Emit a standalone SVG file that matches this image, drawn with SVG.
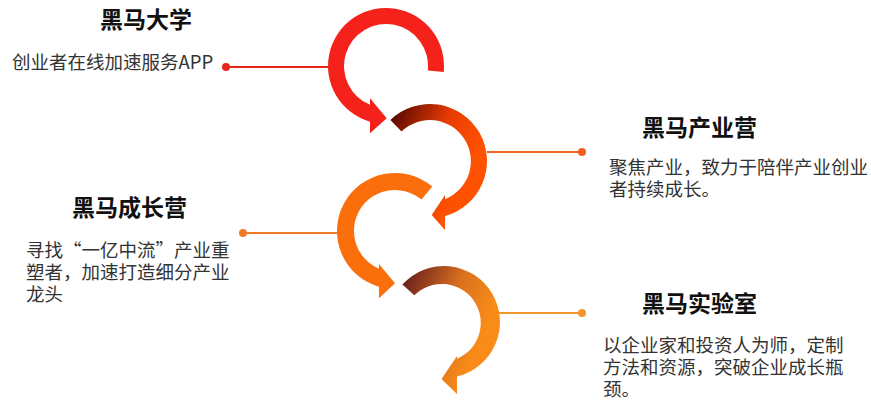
<svg xmlns="http://www.w3.org/2000/svg" width="871" height="403" viewBox="0 0 871 403">
  <style>
    .title { font-family: "Noto Sans CJK SC", "Noto Sans", sans-serif; font-size: 23px; font-weight: bold; fill: #111; }
    .desc { font-family: "Noto Sans CJK SC", "Noto Sans", sans-serif; font-size: 18.5px; fill: #333; }
    .ln { stroke-width: 2; fill: none; }
  </style>
  <defs>
    <linearGradient id="g2" gradientUnits="userSpaceOnUse" x1="390" y1="120" x2="475" y2="160">
      <stop offset="0" stop-color="#5a0800"/>
      <stop offset="0.55" stop-color="#e83c04"/>
      <stop offset="1" stop-color="#ff5200"/>
    </linearGradient>
    <linearGradient id="g4" gradientUnits="userSpaceOnUse" x1="402" y1="284" x2="490" y2="320">
      <stop offset="0" stop-color="#6a1e1e"/>
      <stop offset="0.55" stop-color="#d9701e"/>
      <stop offset="1" stop-color="#f98c18"/>
    </linearGradient>
  </defs>
  <rect width="871" height="403" fill="#ffffff"/>

  <g id="connectors">
    <line class="ln" x1="226" y1="67" x2="329" y2="67" stroke="#e8261d"/>
    <circle cx="226" cy="67" r="4" fill="#e8261d"/>
    <line class="ln" x1="487" y1="152" x2="582" y2="152" stroke="#f0601e"/>
    <circle cx="582" cy="152" r="4" fill="#f0601e"/>
    <line class="ln" x1="243" y1="233" x2="338" y2="233" stroke="#f07a26"/>
    <circle cx="243" cy="233" r="4" fill="#f07a26"/>
    <line class="ln" x1="499" y1="313" x2="582" y2="313" stroke="#f3952a"/>
    <circle cx="582" cy="313" r="4" fill="#f3952a"/>
  </g>

  <g id="node-1">
    <path d="M443.7,72.1 A58,58 0 1 0 370,121.7 L370,133.3 L386.7,118.3 L370,98.3 L370,104.8 A42,42 0 1 1 427.8,70.4 Z" fill="#f5221c"/>
    <text class="title" x="100" y="28">黑马大学</text>
    <text class="desc" x="12" y="69">创业者在线加速服务APP</text>
  </g>

  <g id="node-2">
    <path d="M390.4,120 A57,57 0 1 1 445,216 L445,230 L431.7,215 L445,195 L445,199.2 A41,41 0 1 0 401.5,131.5 Z" fill="url(#g2)"/>
    <text class="title" x="642" y="136">黑马产业营</text>
    <text class="desc" x="609" y="174">聚焦产业，致力于陪伴产业创业</text>
    <text class="desc" x="609" y="196">者持续成长。</text>
  </g>

  <g id="node-3">
    <path d="M432.3,186.6 A58,58 0 1 0 379,286.75 L379,298.3 L395,283.3 L379,264 L379,268.7 A41,41 0 1 1 421.4,199.6 Z" fill="#fa6f0c"/>
    <text class="title" x="72" y="216">黑马成长营</text>
    <text class="desc" x="26" y="257">寻找“一亿中流”产业重</text>
    <text class="desc" x="26" y="279">塑者，加速打造细分产业</text>
    <text class="desc" x="26" y="301">龙头</text>
  </g>

  <g id="node-4">
    <path d="M402.4,284.5 A56,56 0 1 1 457,376.5 L457,394 L441.5,379 L457,356 L457,358.8 A39,39 0 1 0 414.3,295.2 Z" fill="url(#g4)"/>
    <text class="title" x="642" y="312">黑马实验室</text>
    <text class="desc" x="603" y="352">以企业家和投资人为师，定制</text>
    <text class="desc" x="603" y="374">方法和资源，突破企业成长瓶</text>
    <text class="desc" x="603" y="396">颈。</text>
  </g>
</svg>
